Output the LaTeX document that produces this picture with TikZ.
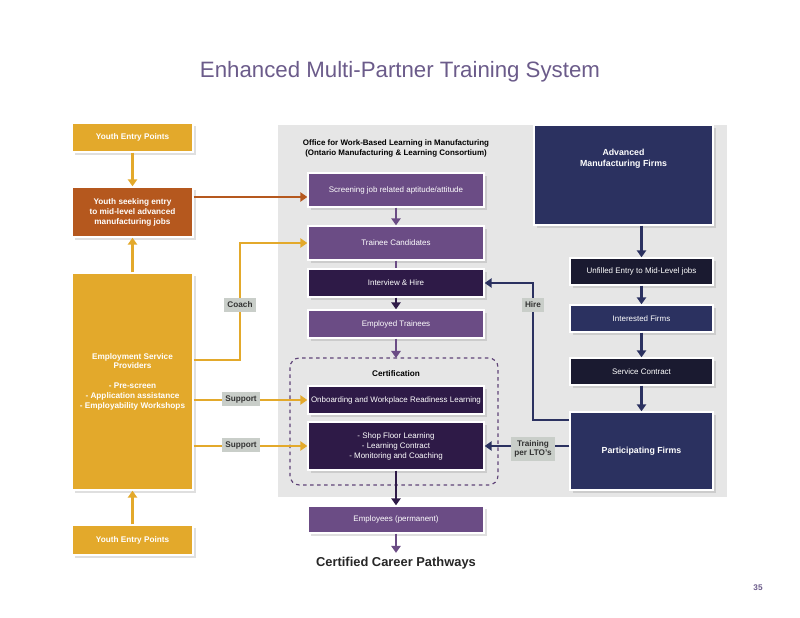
\documentclass[tikz,border=0pt]{standalone}
\usepackage{fontspec}
\setmainfont{Liberation Sans}
\usetikzlibrary{shadows,arrows.meta}
\definecolor{gold}{HTML}{E3A92B}
\definecolor{rust}{HTML}{B5581E}
\definecolor{plum}{HTML}{6B4C85}
\definecolor{darkplum}{HTML}{2E1A47}
\definecolor{navy}{HTML}{2B3160}
\definecolor{ink}{HTML}{1A1A30}
\definecolor{panel}{HTML}{E6E6E6}
\definecolor{tag}{HTML}{C9CEC9}
\definecolor{titlec}{HTML}{6B5B8A}
\begin{document}
\begin{tikzpicture} [
      x=0.03cm, y=-0.03cm,
      box/.style={draw=white, line width=1.2pt, rectangle, text=white, align=center,
        font=\fontsize{6.8}{8.5}\selectfont, drop shadow={opacity=0.25}, inner sep=1pt},
      ybox/.style={box, fill=gold, minimum width=3.63cm, font=\fontsize{7}{8.5}\selectfont\bfseries},
      pbox/.style={box, fill=plum, minimum width=5.28cm},
      dbox/.style={box, fill=darkplum, minimum width=5.28cm},
      fbox/.style={box, fill=navy, minimum width=4.29cm},
      tag/.style={fill=tag, text=black!80, font=\fontsize{7}{8}\selectfont\bfseries, align=center, inner sep=3pt},
      flow/.style={-{Triangle[width=8pt,length=6pt]}, line width=2.2pt}
   ]
    \useasboundingbox (0,0) rectangle (800,618);
    \node[text=titlec, font=\fontsize{19}{22}\selectfont] (title) at (400,72) {Enhanced Multi-Partner Training System};
    \fill[panel] (278,125) rectangle (727,497);
    \node[font=\fontsize{6.8}{8.5}\selectfont\bfseries, align=center] (office) at (396,148) {Office for Work-Based Learning in Manufacturing\\(Ontario Manufacturing \& Learning Consortium)};

    % youth side
    \node[ybox, minimum height=0.87cm] (yepTop) at (132.5,137.5) {Youth Entry Points};
    \node[ybox, fill=rust, minimum height=1.5cm] (seek) at (132.5,212) {Youth seeking entry\\to mid-level advanced\\manufacturing jobs};
    \node[ybox, minimum height=6.51cm] (esp) at (132.5,381.5) {Employment Service\\Providers\\[8pt]- Pre-screen\\- Application assistance\\- Employability Workshops};
    \node[ybox, minimum height=0.9cm] (yepBot) at (132.5,540) {Youth Entry Points};

    % office
    \node[pbox, minimum height=1.02cm] (screen) at (396,190) {Screening job related aptitude/attitude};
    \node[pbox, minimum height=1.02cm] (trainee) at (396,243) {Trainee Candidates};
    \node[dbox, minimum height=0.84cm] (interview) at (396,283) {Interview \& Hire};
    \node[pbox, minimum height=0.84cm] (employed) at (396,324) {Employed Trainees};
    \draw[dashed, rounded corners=8pt, line width=1pt, color=plum!90!black] (290,358) rectangle (498,485);
    \coordinate (certTop) at (396,358);
    \node[font=\fontsize{7}{8.5}\selectfont\bfseries] (cert) at (396,374) {Certification};
    \node[dbox, minimum height=0.84cm] (onboard) at (396,400) {Onboarding and Workplace Readiness Learning};
    \node[dbox, minimum height=1.44cm] (shop) at (396,446) {- Shop Floor Learning\\- Learning Contract\\- Monitoring and Coaching};
    \node[pbox, minimum height=0.81cm] (perm) at (396,519.5) {Employees (permanent)};
    \node[font=\fontsize{11}{13}\selectfont\bfseries, text=black!85] (pathways) at (396,563) {Certified Career Pathways};

    % firms
    \node[fbox, minimum width=5.37cm, minimum height=3cm, font=\fontsize{7.5}{9.5}\selectfont\bfseries] (adv) at (623.5,175) {Advanced\\Manufacturing Firms\\[20pt]};
    \node[fbox, fill=ink, minimum height=0.81cm] (unfilled) at (641.5,271.5) {Unfilled Entry to Mid-Level jobs};
    \node[fbox, minimum height=0.81cm] (interested) at (641.5,318.5) {Interested Firms};
    \node[fbox, fill=ink, minimum height=0.81cm] (service) at (641.5,371.5) {Service Contract};
    \node[fbox, minimum height=2.34cm, font=\fontsize{7.5}{9.5}\selectfont\bfseries] (part) at (641.5,451) {Participating Firms};

    % youth arrows
    \draw[flow, gold] (yepTop) -- (seek);
    \draw[flow, gold] (esp) -- (seek);
    \draw[flow, gold] (yepBot) -- (esp);
    \draw[flow, rust] (seek.east |- 0,197) -- (screen.west |- 0,197);
    \draw[flow, gold] (esp.east |- 0,360) -| (240,243) -- (trainee.west);
    \node[tag] (coach) at (240,305) {Coach};
    \draw[flow, gold] (esp.east |- onboard) -- (onboard.west);
    \node[tag] (sup1) at (241,399) {Support};
    \draw[flow, gold] (esp.east |- shop) -- (shop.west);
    \node[tag] (sup2) at (241,445) {Support};

    % office arrows
    \draw[flow, plum] (screen) -- (trainee);
    \draw[line width=2.2pt, plum] (trainee) -- (interview);
    \draw[flow, darkplum] (interview) -- (employed);
    \draw[flow, plum] (employed) -- (certTop);
    \draw[flow, darkplum] (shop) -- (perm);
    \draw[flow, plum] (perm) -- (pathways);

    % firm arrows
    \draw[flow, navy] (adv.south -| unfilled) -- (unfilled);
    \draw[flow, navy] (unfilled) -- (interested);
    \draw[flow, navy] (interested) -- (service);
    \draw[flow, navy] (service) -- (part);
    \draw[flow, navy] (part.west |- 0,420) -| (533,283) -- (interview.east);
    \node[tag] (hire) at (533,305) {Hire};
    \draw[flow, navy] (part.west |- shop) -- (shop.east);
    \node[tag] (lto) at (533,449) {Training\\per LTO's};

    \node[text=titlec, font=\fontsize{7}{8}\selectfont\bfseries] (page) at (758,588) {35};
\end{tikzpicture}
\end{document}
